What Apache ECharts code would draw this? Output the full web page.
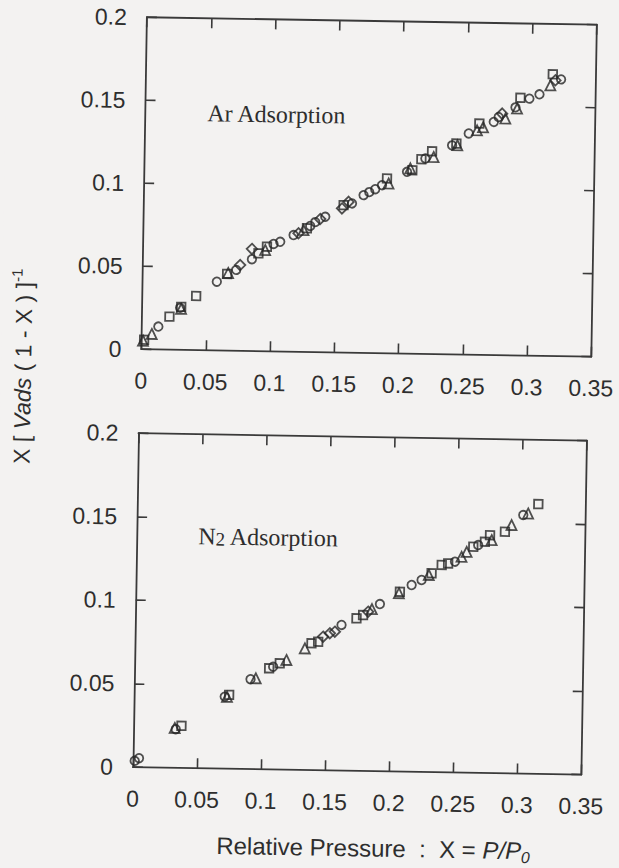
<!DOCTYPE html>
<html>
<head>
<meta charset="utf-8">
<script src="https://cdn.jsdelivr.net/npm/echarts@6/dist/echarts.min.js"></script>
<style>
  html, body { margin: 0; padding: 0; background: #f3f2f1; overflow: hidden; }
  #chart { width: 619px; height: 868px; transform: rotate(0.95deg); transform-origin: 309.5px 434px; }
</style>
</head>
<body>
<div id="chart"></div>
<script>
// Axis tick labels
const xTickLabels = ['0', '0.05', '0.1', '0.15', '0.2', '0.25', '0.3', '0.35'];
const yTickLabels = ['0', '0.05', '0.1', '0.15', '0.2'];

// Ar adsorption: [relative pressure X, X / (Vads (1 - X))]
const arCircle = [
  [0.0129, 0.0138], [0.0296, 0.0253], [0.0578, 0.0414], [0.0727, 0.0487], [0.0848, 0.0553],
  [0.1014, 0.0647], [0.1066, 0.0661], [0.1169, 0.0703], [0.1297, 0.0759], [0.1336, 0.0783],
  [0.1413, 0.0816], [0.1619, 0.0899], [0.1708, 0.0950], [0.1752, 0.0969], [0.1798, 0.0987],
  [0.1850, 0.1012], [0.2043, 0.1095], [0.2184, 0.1177], [0.2390, 0.1259], [0.2518, 0.1332],
  [0.2711, 0.1404], [0.2749, 0.1434], [0.2878, 0.1494], [0.2985, 0.1548], [0.3063, 0.1575],
  [0.3229, 0.1667]
];
const arSquare = [
  [0.0020, 0.0057], [0.0214, 0.0199], [0.0304, 0.0259], [0.0419, 0.0326], [0.0657, 0.0462],
  [0.0898, 0.0589], [0.0963, 0.0630], [0.1272, 0.0745], [0.1554, 0.0888], [0.1888, 0.1053],
  [0.2084, 0.1105], [0.2153, 0.1172], [0.2235, 0.1221], [0.2423, 0.1270], [0.2599, 0.1393],
  [0.2915, 0.1552], [0.3164, 0.1697]
];
const arTriangle = [
  [0.0012, 0.0051], [0.0079, 0.0093], [0.0304, 0.0247], [0.0665, 0.0468], [0.0950, 0.0610],
  [0.1246, 0.0734], [0.1901, 0.1023], [0.2068, 0.1116], [0.2248, 0.1187], [0.2431, 0.1260],
  [0.2582, 0.1352], [0.2629, 0.1371], [0.2801, 0.1426], [0.2891, 0.1487], [0.3147, 0.1630]
];
const arDiamond = [
  [0.0757, 0.0517], [0.0847, 0.0615], [0.1207, 0.0714], [0.1374, 0.0802], [0.1542, 0.0868],
  [0.1592, 0.0908], [0.2775, 0.1455], [0.3185, 0.1661]
];

// N2 adsorption
const n2Circle = [
  [0.0013, 0.0038], [0.0046, 0.0054], [0.0329, 0.0231], [0.0707, 0.0431], [0.0906, 0.0538],
  [0.1081, 0.0615], [0.1609, 0.0872], [0.1906, 0.1001], [0.2151, 0.1118], [0.2228, 0.1149],
  [0.2486, 0.1262], [0.2665, 0.1364], [0.3013, 0.1548]
];
const n2Square = [
  [0.0373, 0.0252], [0.0741, 0.0442], [0.1050, 0.0605], [0.1132, 0.0636], [0.1377, 0.0759],
  [0.1429, 0.0769], [0.1725, 0.0913], [0.1776, 0.0933], [0.2060, 0.1076], [0.2305, 0.1190],
  [0.2383, 0.1241], [0.2433, 0.1251], [0.2627, 0.1353], [0.2717, 0.1384], [0.2756, 0.1424],
  [0.2872, 0.1446], [0.3129, 0.1615]
];
const n2Triangle = [
  [0.0321, 0.0239], [0.0725, 0.0430], [0.0947, 0.0544], [0.1184, 0.0657], [0.1326, 0.0728],
  [0.1844, 0.0970], [0.2053, 0.1068], [0.2284, 0.1180], [0.2537, 0.1292], [0.2576, 0.1322],
  [0.2770, 0.1395], [0.2923, 0.1487], [0.3051, 0.1558]
];
const n2Diamond = [
  [0.1467, 0.0800], [0.1519, 0.0821], [0.1558, 0.0831], [0.1815, 0.0954]
];

const INK = '#2e2e2e';
const SANS = '"Liberation Sans", Arial, Helvetica, sans-serif';
const SERIF = '"Liberation Serif", "Times New Roman", serif';

const lineStyle = { color: '#3a3a3a', width: 1.8 };
const tickStyle = { inside: true, length: 10, lineStyle: { color: '#3a3a3a', width: 1.6 } };

function xAxisFor(gridIndex, position, withLabels) {
  return {
    type: 'value', gridIndex, position, min: 0, max: 0.35, interval: 0.05,
    axisLine: { show: true, onZero: false, lineStyle },
    axisTick: tickStyle,
    splitLine: { show: false },
    axisLabel: {
      show: withLabels, margin: 20, color: INK, fontFamily: SANS, fontSize: 23,
      formatter: v => xTickLabels[Math.round(v / 0.05)]
    }
  };
}
function yAxisFor(gridIndex, position, withLabels) {
  return {
    type: 'value', gridIndex, position, min: 0, max: 0.2, interval: 0.05,
    axisLine: { show: true, onZero: false, lineStyle },
    axisTick: tickStyle,
    splitLine: { show: false },
    axisLabel: {
      show: withLabels, margin: 20, color: INK, fontFamily: SANS, fontSize: 23,
      formatter: v => yTickLabels[Math.round(v / 0.05)]
    }
  };
}

const markerDefs = [
  { symbol: 'circle', size: 8.5 },
  { symbol: 'rect', size: 8.5 },
  { symbol: 'triangle', size: 10 },
  { symbol: 'diamond', size: 10.5 }
];
function markerSeries(data, kind, gridIdx) {
  const d = markerDefs[kind];
  return {
    type: 'scatter', xAxisIndex: gridIdx, yAxisIndex: gridIdx,
    data, symbol: d.symbol, symbolSize: d.size,
    itemStyle: { color: 'rgba(0,0,0,0)', borderColor: '#262626', borderWidth: 1.8 },
    emphasis: { disabled: true }, silent: true
  };
}

const chart = echarts.init(document.getElementById('chart'), null, { renderer: 'svg' });
chart.setOption({
  animation: false,
  backgroundColor: '#f3f2f1',
  grid: [
    { left: 140, top: 20, width: 450, height: 332 },
    { left: 138.5, top: 436, width: 448.5, height: 334 }
  ],
  xAxis: [
    xAxisFor(0, 'bottom', true), xAxisFor(1, 'bottom', true),
    xAxisFor(0, 'top', false), xAxisFor(1, 'top', false)
  ],
  yAxis: [
    yAxisFor(0, 'left', true), yAxisFor(1, 'left', true),
    yAxisFor(0, 'right', false), yAxisFor(1, 'right', false)
  ],
  series: [
    markerSeries(arCircle, 0, 0), markerSeries(arSquare, 1, 0),
    markerSeries(arTriangle, 2, 0), markerSeries(arDiamond, 3, 0),
    markerSeries(n2Circle, 0, 1), markerSeries(n2Square, 1, 1),
    markerSeries(n2Triangle, 2, 1), markerSeries(n2Diamond, 3, 1)
  ],
  graphic: [
    {
      type: 'text', left: 202, top: 103,
      style: { text: 'Ar Adsorption', fill: INK, font: '24px ' + SERIF }
    },
    {
      type: 'text', left: 200, top: 526,
      style: {
        text: '{a|N}{s|2}{a| Adsorption}',
        rich: {
          a: { fill: INK, fontFamily: SERIF, fontSize: 24, lineHeight: 28, verticalAlign: 'bottom' },
          s: { fill: INK, fontFamily: SERIF, fontSize: 19, lineHeight: 28, verticalAlign: 'bottom' }
        }
      }
    },
    {
      type: 'text', x: 22, y: 371, rotation: Math.PI / 2,
      style: {
        text: '{a|X [ }{i|Vads}{a| ( 1 - X ) ]}{p|-1}',
        align: 'center', verticalAlign: 'middle',
        rich: {
          a: { fill: INK, fontFamily: SANS, fontSize: 23, lineHeight: 30 },
          i: { fill: INK, fontFamily: SANS, fontSize: 23, fontStyle: 'italic', lineHeight: 30 },
          p: { fill: INK, fontFamily: SANS, fontSize: 15, lineHeight: 30, verticalAlign: 'top' }
        }
      }
    },
    {
      type: 'text', x: 380, y: 847,
      style: {
        text: '{a|Relative Pressure  :  X = }{i|P/P}{s|0}',
        align: 'center', verticalAlign: 'middle',
        rich: {
          a: { fill: INK, fontFamily: SANS, fontSize: 24, lineHeight: 30 },
          i: { fill: INK, fontFamily: SANS, fontSize: 24, fontStyle: 'italic', lineHeight: 30 },
          s: { fill: INK, fontFamily: SANS, fontSize: 16, fontStyle: 'italic', lineHeight: 30, verticalAlign: 'bottom' }
        }
      }
    }
  ]
});
</script>
</body>
</html>
